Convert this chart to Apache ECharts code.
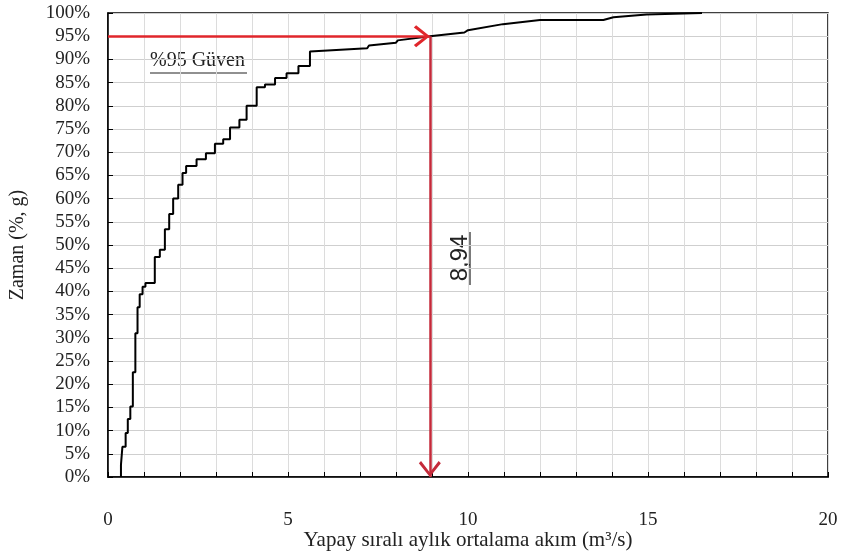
<!DOCTYPE html>
<html>
<head>
<meta charset="utf-8">
<script src="https://cdn.jsdelivr.net/npm/echarts@6/dist/echarts.min.js"></script>
<style>
  html, body { margin: 0; padding: 0; background: #fff; }
  #chart { width: 843px; height: 555px; }
</style>
</head>
<body>
<div id="chart"></div>
<script>
// 曲线顶点：流量 m3/s 与 时间百分比
const flow = [0.36, 0.36, 0.40, 0.40, 0.49, 0.49, 0.55, 0.55, 0.62, 0.62, 0.69, 0.69, 0.76, 0.76,
    0.82, 0.82, 0.88, 0.88, 0.96, 0.96, 1.04, 1.04, 1.30, 1.30, 1.44, 1.44, 1.58, 1.58, 1.70, 1.70,
    1.81, 1.81, 1.95, 1.95, 2.07, 2.07, 2.17, 2.17, 2.46, 2.46, 2.72, 2.72, 2.97, 2.97, 3.20, 3.20,
    3.39, 3.39, 3.65, 3.65, 3.85, 3.85, 4.13, 4.13, 4.36, 4.36, 4.64, 4.64, 4.96, 4.96, 5.29, 5.29,
    5.61, 5.61, 7.20, 7.25, 8.00, 8.05, 8.94, 9.90, 10.00, 10.97, 12.00, 13.76, 14.04, 14.96, 16.50];
const pct = [0, 2.6, 2.6, 6.5, 6.5, 9.5, 9.5, 12.5, 12.5, 15.2, 15.2, 22.6, 22.6, 31,
    31, 36.6, 36.6, 39.4, 39.4, 41, 41, 41.8, 41.8, 47.4, 47.4, 49, 49, 53.4, 53.4, 56.7,
    56.7, 60, 60, 63, 63, 65.5, 65.5, 67, 67, 68.5, 68.5, 69.8, 69.8, 71.8, 71.8, 72.8,
    72.8, 75.3, 75.3, 77, 77, 80, 80, 84, 84, 84.6, 84.6, 86, 86, 87, 87, 88.6,
    88.6, 91.7, 92.4, 93, 93.6, 94.1, 95, 95.8, 96.3, 97.6, 98.5, 98.5, 99.1, 99.7, 100];

// %95 güven noktası
const confidenceLevel = 95;
const confidenceFlow = 8.94;

// 坐标轴刻度
const xLabels = [0, 5, 10, 15, 20];

const curveData = flow.map(function (v, i) { return [v, pct[i]]; });

const chartDom = document.getElementById('chart');
const myChart = echarts.init(chartDom);

const serif = '"Liberation Serif", "Times New Roman", serif';
const chevron = 'path://M10 0 L20 12 L18 14 L10 4 L2 14 L0 12 Z';

const option = {
    animation: false,
    backgroundColor: '#fff',
    grid: {
        left: 108, right: 15, top: 13, bottom: 78,
        outerBoundsMode: 'none',
        containLabel: false,
        show: true, borderColor: '#000', borderWidth: 1.5
    },
    xAxis: {
        type: 'value',
        min: 0, max: 20, interval: 1,
        name: 'Yapay sıralı aylık ortalama akım (m³/s)',
        nameLocation: 'middle',
        nameGap: 53,
        nameMoveOverlap: false,
        nameTextStyle: { fontFamily: serif, fontSize: 21, color: '#222' },
        axisLine: { lineStyle: { color: '#000', width: 1.5 } },
        axisTick: { inside: true, length: 5, lineStyle: { color: '#000' } },
        axisLabel: {
            margin: 34, fontFamily: serif, fontSize: 19, color: '#222',
            formatter: function (v) { return xLabels.indexOf(v) >= 0 ? String(v) : ''; }
        },
        splitLine: { show: true, lineStyle: { color: '#dcdcdc', width: 1 } }
    },
    yAxis: {
        type: 'value',
        min: 0, max: 100, interval: 5,
        name: 'Zaman (%, g)',
        nameLocation: 'middle',
        nameGap: 80,
        nameMoveOverlap: false,
        nameRotate: 90,
        nameTextStyle: { fontFamily: serif, fontSize: 20, color: '#222' },
        axisLine: { lineStyle: { color: '#000', width: 1.5 } },
        axisTick: { inside: true, length: 5, lineStyle: { color: '#000' } },
        axisLabel: {
            margin: 18, fontFamily: serif, fontSize: 19, color: '#222',
            formatter: '{value}%'
        },
        splitLine: { show: true, lineStyle: { color: '#cfcfcf', width: 1 } }
    },
    series: [
        {
            type: 'line',
            data: curveData,
            showSymbol: false,
            lineStyle: { color: '#000', width: 2 },
            markLine: {
                silent: true,
                symbol: ['none', chevron],
                symbolSize: [22, 16],
                symbolOffset: [0, [0, 8]],
                label: { show: false },
                data: [
                    [
                        { coord: [0, confidenceLevel], lineStyle: { color: '#e0262b', width: 2.5, type: 'solid' } },
                        { coord: [confidenceFlow, confidenceLevel] }
                    ],
                    [
                        { coord: [confidenceFlow, confidenceLevel], lineStyle: { color: '#c42a3a', width: 2.5, type: 'solid' } },
                        { coord: [confidenceFlow, 0] }
                    ]
                ]
            }
        }
    ],
    graphic: [
        {
            type: 'text', left: 150, top: 51,
            style: { text: '%95 Güven', font: '20px ' + serif, fill: '#222' }
        },
        {
            type: 'line', shape: { x1: 150, y1: 73, x2: 247, y2: 73 },
            style: { stroke: '#222', lineWidth: 1.2 }
        },
        {
            type: 'text', x: 460, y: 258, rotation: Math.PI / 2,
            style: {
                text: '8,94', font: '24px "Liberation Sans", Arial, sans-serif', fill: '#222',
                textAlign: 'center', textVerticalAlign: 'middle'
            }
        },
        {
            type: 'line', shape: { x1: 470, y1: 232, x2: 470, y2: 285 },
            style: { stroke: '#222', lineWidth: 1.2 }
        }
    ]
};

myChart.setOption(option);

window.addEventListener('resize', function () {
    myChart.resize();
});
</script>
</body>
</html>
